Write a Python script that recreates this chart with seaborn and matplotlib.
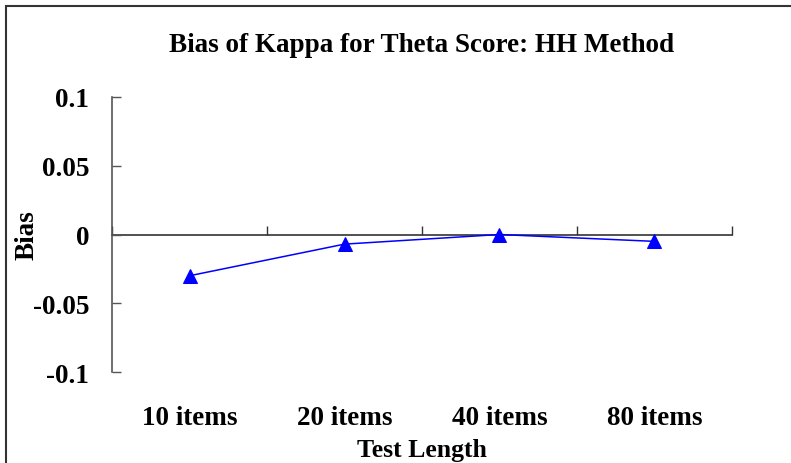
"""
Bias of Kappa for Theta Score (HH method), redrawn from an Excel-style chart.
"""

import matplotlib
matplotlib.use("Agg")
import matplotlib.pyplot as plt
import matplotlib.patches as mpatches
import seaborn as sns

# Data
test_lengths = ["10 items", "20 items", "40 items", "80 items"]
bias_values = [-0.030, -0.007, 0.000, -0.005]
y_ticks = [-0.1, -0.05, 0, 0.05, 0.1]
y_tick_labels = ["-0.1", "-0.05", "0", "0.05", "0.1"]

AXIS_GREY = "#555555"

sns.set_style("white")
plt.rcParams["font.family"] = ["Liberation Serif", "DejaVu Serif"]
plt.rcParams["font.weight"] = "bold"
plt.rcParams["text.color"] = "black"
plt.rcParams["xtick.color"] = "black"
plt.rcParams["ytick.color"] = "black"
plt.rcParams["axes.labelcolor"] = "black"

fig = plt.figure(figsize=(7.91, 4.64), dpi=100)
ax = fig.add_axes([0.1416, 0.1961, 0.7838, 0.5927])

sns.lineplot(
    x=test_lengths,
    y=bias_values,
    marker="^",
    markersize=9.5,
    color="#0000ff",
    markeredgecolor="#0000ff",
    linewidth=1.1,
    sort=False,
    ax=ax,
)

ax.set_xlim(-0.5, len(test_lengths) - 0.5)
ax.set_ylim(-0.1, 0.1)

# y axis: ticks inside, hyphen-minus labels
ax.set_yticks(y_ticks)
ax.set_yticklabels(y_tick_labels, fontsize=19.5, fontweight="bold",
                   va="top")
ax.tick_params(axis="y", left=True, direction="in", length=6.5, width=1,
               color=AXIS_GREY, labelcolor="black", pad=16.5)
# Excel sits the numbers a touch below their tick
for lab in ax.get_yticklabels():
    lab.set_verticalalignment("center_baseline")

# category labels sit below the plot, no tick marks
ax.set_xticks(range(len(test_lengths)))
ax.set_xticklabels(test_lengths, fontsize=19.5, fontweight="bold")
ax.tick_params(axis="x", length=0, pad=24, labelcolor="black")

for side in ("top", "right", "bottom"):
    ax.spines[side].set_visible(False)
ax.spines["left"].set_color(AXIS_GREY)
ax.spines["left"].set_linewidth(1.2)

# category axis line drawn through y = 0, boundary ticks pointing up
zero_axis = ax.secondary_xaxis(0.5)
zero_axis.set_xticks([i - 0.5 for i in range(len(test_lengths) + 1)])
zero_axis.tick_params(axis="x", top=True, direction="out", length=6.5, width=1,
                      color="#333333", labeltop=False, labelbottom=False)
zero_axis.spines["top"].set_color("#333333")
zero_axis.spines["top"].set_linewidth(1.2)

ax.set_title("Bias of Kappa for Theta Score: HH Method",
             fontsize=19.5, fontweight="bold", pad=33, color="black")
ax.set_xlabel("Test Length", fontsize=18.5, fontweight="bold", va="center")
ax.set_ylabel("Bias", fontsize=19.5, fontweight="bold", va="center")
ax.xaxis.set_label_coords(0.5, -0.28)
ax.yaxis.set_label_coords(-0.137, 0.5)

# chart frame (only its top and left edges fall inside the picture)
fig.patches.append(mpatches.Rectangle(
    (5.5 / 791, -0.1), 1.2, 1.1 - 7.5 / 464,
    transform=fig.transFigure, fill=False,
    edgecolor="#333333", linewidth=1.5))

fig.savefig("out.png", dpi=100)
